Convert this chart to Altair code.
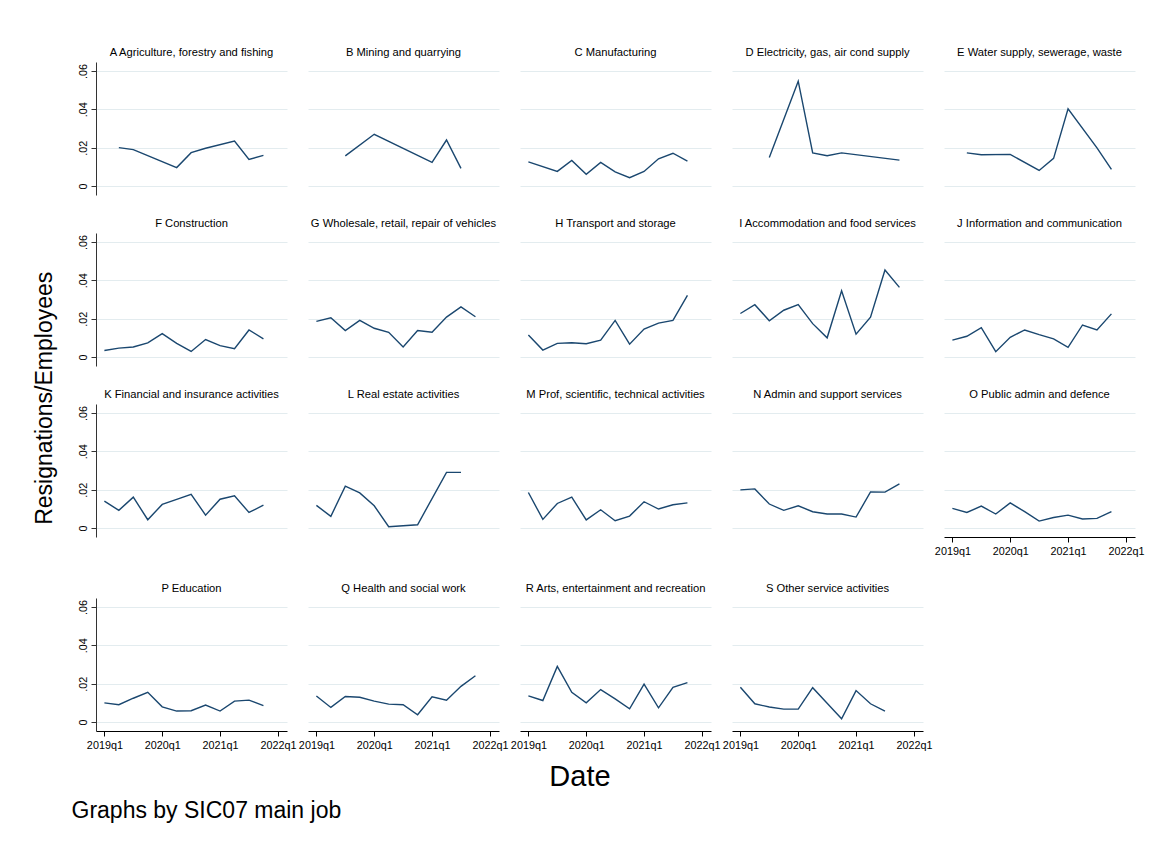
import json

import altair as alt
import pandas as pd

# Quarter index: 0 = 2019q1 ... 11 = 2021q4
quarters = list(range(12))
x_tick_values = [0, 4, 8, 12]
x_tick_labels = ["2019q1", "2020q1", "2021q1", "2022q1"]
y_tick_values = [0, 0.02, 0.04, 0.06]
y_tick_labels = ["0", ".02", ".04", ".06"]

# Resignations / employees by industry (None = no estimate for that quarter)
agriculture = [None, .0200, .0190, None, None, .0096, .0174, .0197, None, .0234, .0139, .0160]
mining = [None, None, .0157, None, .0270, None, None, None, .0123, .0240, .0092, None]
manufacturing = [.0126, None, .0076, .0133, .0061, .0123, .0074, .0043, .0076, .0142, .0171, .0130]
electricity = [None, None, .0149, None, .0547, .0173, .0158, .0173, None, None, None, .0135]
water = [None, .0173, .0163, None, .0165, None, .0081, .0144, .0403, None, .0199, .0087]
construction = [.0034, .0046, .0052, .0074, .0122, .0071, .0029, .0091, .0059, .0043, .0141, .0095]
wholesale = [.0186, .0205, .0138, .0191, .0150, .0129, .0052, .0138, .0129, .0208, .0261, .0210]
transport = [.0115, .0036, .0071, .0074, .0069, .0088, .0191, .0067, .0146, .0177, .0191, .0322]
accommodation = [.0227, .0273, .0189, .0244, .0273, .0174, .0100, .0346, .0119, .0208, .0454, .0363]
information = [.0088, .0108, .0153, .0028, .0103, .0141, .0117, .0095, .0050, .0167, .0141, .0225]
financial = [.0140, .0092, .0161, .0043, .0123, .0149, .0176, .0067, .0150, .0168, .0081, .0119]
real_estate = [.0118, .0061, .0218, .0183, .0116, .0007, None, .0017, None, .0290, .0290, None]
professional = [.0185, .0045, .0128, .0161, .0042, .0095, .0038, .0062, .0137, .0099, .0121, .0131]
admin_support = [.0199, .0204, .0125, .0092, .0116, .0085, .0073, .0073, .0057, .0188, .0187, .0230]
public_admin = [.0102, .0081, .0114, .0073, .0131, .0085, .0036, .0055, .0067, .0047, .0050, .0085]
education = [.0100, .0090, .0124, .0155, .0079, .0057, .0059, .0088, .0057, .0109, .0114, .0085]
health = [.0136, .0076, .0133, .0129, .0109, .0093, .0090, .0038, .0131, .0114, .0186, .0241]
arts = [.0136, .0112, .0290, .0155, .0100, .0169, .0121, .0069, .0198, .0074, .0181, .0205]
other_services = [.0181, .0095, .0078, .0067, .0067, .0179, .0098, .0017, .0164, .0095, .0057, None]

panels = [
    ("A Agriculture, forestry and fishing", agriculture),
    ("B Mining and quarrying", mining),
    ("C Manufacturing", manufacturing),
    ("D Electricity, gas, air cond supply", electricity),
    ("E Water supply, sewerage, waste", water),
    ("F Construction", construction),
    ("G Wholesale, retail, repair of vehicles", wholesale),
    ("H Transport and storage", transport),
    ("I Accommodation and food services", accommodation),
    ("J Information and communication", information),
    ("K Financial and insurance activities", financial),
    ("L Real estate activities", real_estate),
    ("M Prof, scientific, technical activities", professional),
    ("N Admin and support services", admin_support),
    ("O Public admin and defence", public_admin),
    ("P Education", education),
    ("Q Health and social work", health),
    ("R Arts, entertainment and recreation", arts),
    ("S Other service activities", other_services),
]

FONT = "Liberation Sans"
LINE_COLOR = "#1a476f"
GRID_COLOR = "#e3ecef"
N_COLS = 5

x_label_expr = json.dumps({str(v): s for v, s in zip(x_tick_values, x_tick_labels)}) + "[datum.value]"
y_label_expr = json.dumps({str(v): s for v, s in zip(y_tick_values, y_tick_labels)}) + "[datum.value]"

x_scale = alt.Scale(domain=[-0.58, 12.63], nice=False, zero=False)
y_scale = alt.Scale(domain=[-0.0047, 0.0647], nice=False, zero=False)


def panel(title, values, show_y, show_x):
    df = pd.DataFrame({"quarter": quarters, "rate": values}).dropna()

    if show_x:
        x_axis = alt.Axis(
            values=x_tick_values, labelExpr=x_label_expr, grid=False, title=None,
            tickSize=5, labelPadding=3, labelFontSize=10.8, labelFont=FONT,
            labelColor="#000", domainColor="#000", tickColor="#000",
            labelOverlap=False, labelFlush=False,
        )
    else:
        x_axis = alt.Axis(
            values=x_tick_values, grid=False, title=None, labels=False,
            ticks=False, domain=False,
        )

    if show_y:
        y_axis = alt.Axis(
            values=y_tick_values, labelExpr=y_label_expr, grid=True, gridColor=GRID_COLOR,
            title=None, tickSize=5, labelPadding=5, labelAngle=270,
            labelAlign="center", labelBaseline="alphabetic",
            labelFontSize=10.8, labelFont=FONT, labelColor="#000",
            domainColor="#333", tickColor="#333", labelOverlap=False,
        )
    else:
        y_axis = alt.Axis(
            values=y_tick_values, grid=True, gridColor=GRID_COLOR, title=None,
            labels=False, ticks=False, domain=False,
        )

    return (
        alt.Chart(df)
        .mark_line(color=LINE_COLOR, strokeWidth=1.4)
        .encode(
            x=alt.X("quarter:Q", scale=x_scale, axis=x_axis),
            y=alt.Y("rate:Q", scale=y_scale, axis=y_axis),
        )
        .properties(
            width=191,
            height=133,
            title=alt.TitleParams(
                title, fontSize=11.2, font=FONT, fontWeight="normal", color="#000",
                anchor="middle", frame="group", baseline="alphabetic", offset=-5,
            ),
        )
    )


n = len(panels)
charts = []
for i, (title, values) in enumerate(panels):
    col = i % N_COLS
    below = i + N_COLS
    charts.append(panel(title, values, show_y=(col == 0), show_x=(below >= n)))

rows = [
    alt.hconcat(*charts[r:r + N_COLS], spacing=21, bounds="flush")
    for r in range(0, n, N_COLS)
]

upper = alt.vconcat(*rows[:3], spacing=21)
grid = alt.vconcat(upper, rows[3], spacing=25)

with_y = alt.vconcat(
    grid,
    title=alt.TitleParams(
        "Resignations/Employees", orient="left", anchor="middle", fontSize=23,
        font=FONT, fontWeight="normal", color="#000", offset=20,
    ),
)

with_x = alt.vconcat(
    with_y,
    title=alt.TitleParams(
        "Date", orient="bottom", anchor="middle", fontSize=29, font=FONT,
        fontWeight="normal", color="#000", offset=13, dx=-9,
    ),
)

chart = (
    alt.vconcat(
        with_x,
        title=alt.TitleParams(
            "Graphs by SIC07 main job", orient="bottom", anchor="start", fontSize=23,
            font=FONT, fontWeight="normal", color="#000", offset=8, dx=38,
        ),
    )
    .properties(padding={"left": 33, "top": 46, "right": 10, "bottom": 10}, background="white")
    .configure_view(stroke="transparent")
    .configure_concat(spacing=24)
)

chart.save("out.html", embed_options={"renderer": "svg", "actions": False})
